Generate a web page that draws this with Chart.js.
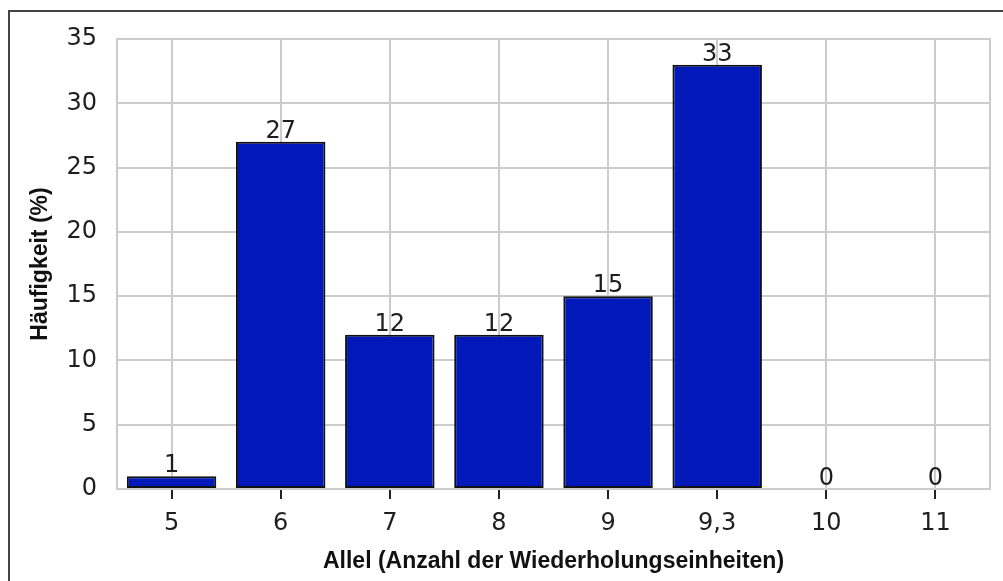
<!DOCTYPE html>
<html>
<head>
<meta charset="utf-8">
<script src="https://cdn.jsdelivr.net/npm/chart.js@4/dist/chart.umd.min.js"></script>
<style>
html,body{margin:0;padding:0;background:#fff;}
#wrap{width:1003px;height:581px;position:relative;}
</style>
</head>
<body>
<div id="wrap"><canvas id="c" width="1003" height="581"></canvas></div>
<script>
const categories = ['5','6','7','8','9','9,3','10','11'];
const values = [1, 27, 12, 12, 15, 33, 0, 0];
const yTicks = [0, 5, 10, 15, 20, 25, 30, 35];
const xTitle = 'Allel (Anzahl der Wiederholungseinheiten)';
const yTitle = 'Häufigkeit (%)';

const tickFont = {family: 'DejaVu Sans', size: 24};
const gridColor = '#cccccc';
const textColor = '#1e1e1e';

const framePlugin = {
  id: 'frame',
  beforeDraw(chart) {
    const ctx = chart.ctx;
    ctx.save();
    ctx.fillStyle = '#fff';
    ctx.fillRect(0, 0, chart.width, chart.height);
    ctx.strokeStyle = '#444';
    ctx.lineWidth = 2;
    ctx.beginPath();
    ctx.moveTo(9, chart.height);
    ctx.lineTo(9, 11);
    ctx.lineTo(chart.width, 11);
    ctx.stroke();
    ctx.restore();
  },
  beforeDatasetsDraw(chart) {
    const a = chart.chartArea, ctx = chart.ctx;
    ctx.save();
    ctx.strokeStyle = gridColor;
    ctx.lineWidth = 2;
    ctx.strokeRect(a.left, a.top, a.right - a.left, a.bottom - a.top);
    ctx.restore();
  },
  afterDatasetsDraw(chart) {
    const ctx = chart.ctx;
    const meta = chart.getDatasetMeta(0);
    ctx.save();
    ctx.font = tickFont.size + 'px ' + tickFont.family;
    ctx.fillStyle = textColor;
    ctx.textAlign = 'center';
    ctx.textBaseline = 'alphabetic';
    meta.data.forEach((bar, i) => {
      ctx.fillText(String(values[i]), bar.x, bar.y - 4);
    });
    ctx.restore();
  }
};

new Chart(document.getElementById('c'), {
  type: 'bar',
  data: {
    labels: categories,
    datasets: [{
      data: values,
      backgroundColor: '#0019b8',
      borderColor: '#111',
      borderWidth: 2,
      borderSkipped: false,
      barPercentage: 0.82,
      categoryPercentage: 1.0
    }]
  },
  options: {
    responsive: false,
    animation: false,
    devicePixelRatio: 1,
    layout: {padding: {left: 0, top: 39, right: 13, bottom: 0}},
    plugins: {legend: {display: false}, tooltip: {enabled: false}},
    scales: {
      x: {
        offset: true,
        grid: {offset: false, color: gridColor, lineWidth: 2, drawTicks: true, tickLength: 10, tickColor: '#222', tickWidth: 2},
        border: {display: true, color: gridColor, width: 2},
        ticks: {font: tickFont, color: textColor, padding: 10, maxRotation: 0, autoSkip: false},
        title: {display: true, text: xTitle, font: {family: 'Liberation Sans', size: 23, weight: 'bold'}, color: '#111', padding: {top: 0, bottom: 6}},
        afterFit(s) { s.height = 92; }
      },
      y: {
        min: 0, max: 35,
        afterBuildTicks(s) { s.ticks = yTicks.map(v => ({value: v})); },
        grid: {color: gridColor, lineWidth: 2, drawTicks: false},
        border: {display: true, color: gridColor, width: 2},
        ticks: {font: tickFont, color: textColor, padding: 20},
        title: {display: true, text: yTitle, font: {family: 'Liberation Sans', size: 23, weight: 'bold'}, color: '#111', padding: {top: 27, bottom: 0}},
        afterFit(s) { s.width = 117; }
      }
    }
  },
  plugins: [framePlugin]
});
</script>
</body>
</html>
